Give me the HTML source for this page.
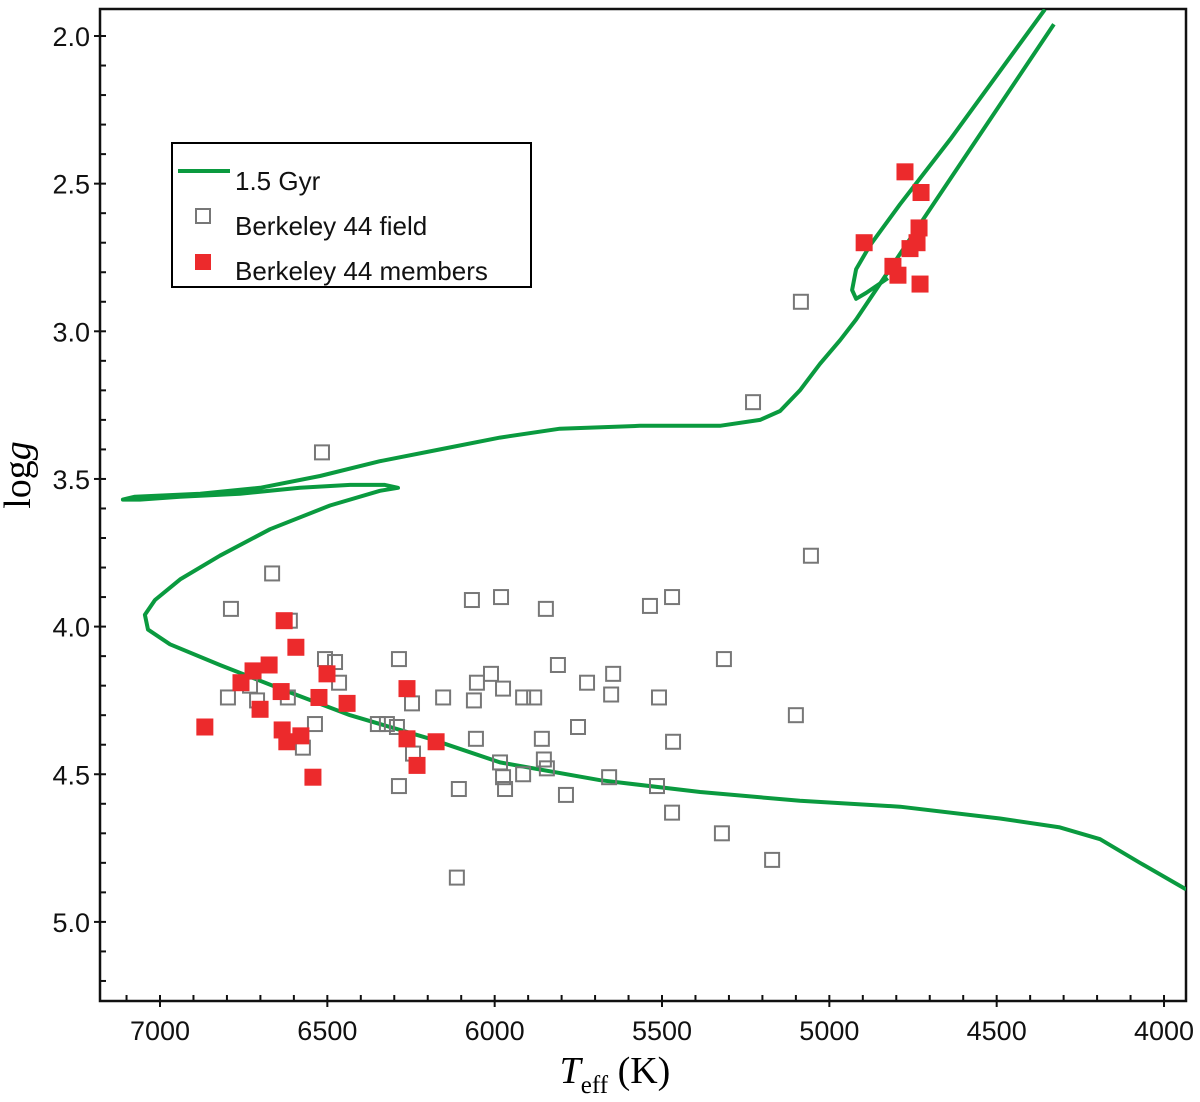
<!DOCTYPE html>
<html><head><meta charset="utf-8"><style>
html,body{margin:0;padding:0;background:#fff}
svg{display:block}
text{font-family:"Liberation Sans",sans-serif}
</style></head><body>
<svg id="chart" width="1200" height="1102" viewBox="0 0 1200 1102" xmlns="http://www.w3.org/2000/svg">
<defs><clipPath id="plotclip"><rect x="100" y="9" width="1086" height="992"/></clipPath></defs>
<g id="axes"></g>
<g id="curves" clip-path="url(#plotclip)"></g>
<g id="field"></g>
<g id="members"></g>
<g id="legend">
<rect x="172" y="143" width="359" height="144" fill="#fff" stroke="#000" stroke-width="2"/>
<line x1="178" y1="171" x2="230" y2="171" stroke="#0a9a3f" stroke-width="4"/>
<text x="235" y="190" font-size="26" fill="#111">1.5 Gyr</text>
<rect x="196" y="209" width="14" height="14" fill="none" stroke="#777" stroke-width="2"/>
<text x="235" y="235" font-size="26" fill="#111">Berkeley 44 field</text>
<rect x="195" y="254" width="16" height="16" fill="#ec2a2c"/>
<text x="235" y="280" font-size="26" fill="#111">Berkeley 44 members</text>
</g>
<text x="30" y="475" font-size="38" style="font-family:'Liberation Serif',serif" text-anchor="middle" transform="rotate(-90 30 475)">log<tspan font-style="italic">g</tspan></text>
<text x="615" y="1083" font-size="38" style="font-family:'Liberation Serif',serif" text-anchor="middle"><tspan font-style="italic">T</tspan><tspan font-size="25" dy="10">eff</tspan><tspan dy="-10"> (K)</tspan></text>
</svg>
<script>
const xTicks = [7000, 6500, 6000, 5500, 5000, 4500, 4000];
const xTickLabels = ["7000", "6500", "6000", "5500", "5000", "4500", "4000"];
const yTicks = [2.0, 2.5, 3.0, 3.5, 4.0, 4.5, 5.0];
const yTickLabels = ["2.0", "2.5", "3.0", "3.5", "4.0", "4.5", "5.0"];
const isoMainT = [3934,4072,4191,4311,4490,4789,5088,5386,5685,5984,6193,6432,6641,6821,6970,7036,7045,7015,6940,6821,6671,6492,6343,6289,6328,6432,6582,6761,6940,7060,7111,7075,6880,6701,6522,6343,6163,5984,5805,5566,5327,5207,5147,5088,5028,4968,4920,4329];
const isoMainG = [4.89,4.80,4.72,4.68,4.65,4.61,4.59,4.56,4.52,4.46,4.38,4.30,4.21,4.13,4.06,4.01,3.96,3.91,3.84,3.76,3.67,3.59,3.54,3.53,3.52,3.52,3.53,3.55,3.56,3.57,3.57,3.56,3.55,3.53,3.49,3.44,3.40,3.36,3.33,3.32,3.32,3.30,3.27,3.20,3.11,3.03,2.96,1.96];
const isoClumpT = [4356,4639,4789,4879,4920,4932,4920,4890,4825];
const isoClumpG = [1.91,2.35,2.57,2.71,2.79,2.86,2.89,2.87,2.82];
const fieldT = [5085,5228,6516,5055,6665,6788,6612,6068,5981,5847,5536,5470,6507,6477,6465,6797,6731,6710,6618,6537,6573,6286,6247,6154,6053,6011,5975,6062,5915,5882,5811,5724,5646,5652,5509,5751,6056,5859,5467,6349,6322,6292,6244,5984,5975,5969,5915,5853,5844,6286,6107,5787,5658,5515,5470,6113,5315,5100,5321,5171];
const fieldG = [2.90,3.24,3.41,3.76,3.82,3.94,3.98,3.91,3.90,3.94,3.93,3.90,4.11,4.12,4.19,4.24,4.20,4.25,4.24,4.33,4.41,4.11,4.26,4.24,4.19,4.16,4.21,4.25,4.24,4.24,4.13,4.19,4.16,4.23,4.24,4.34,4.38,4.38,4.39,4.33,4.33,4.34,4.43,4.46,4.51,4.55,4.50,4.45,4.48,4.54,4.55,4.57,4.51,4.54,4.63,4.85,4.11,4.30,4.70,4.79];
const memberT = [6866,6758,6722,6674,6638,6629,6701,6594,6635,6621,6579,6543,6525,6501,6441,6262,6262,6232,6175,4774,4726,4732,4738,4759,4896,4810,4795,4729];
const memberG = [4.34,4.19,4.15,4.13,4.22,3.98,4.28,4.07,4.35,4.39,4.37,4.51,4.24,4.16,4.26,4.21,4.38,4.47,4.39,2.46,2.53,2.65,2.70,2.72,2.70,2.78,2.81,2.84];

const NS = "http://www.w3.org/2000/svg";
const L = 100, R = 1186, T0 = 9, B = 1001;
function xs(t) { return 160 + (7000 - t) / 2.988; }
function ys(g) { return 36 + (g - 2) * 295.3; }
function mk(tag, attrs, parent) {
  const e = document.createElementNS(NS, tag);
  for (const k in attrs) e.setAttribute(k, attrs[k]);
  parent.appendChild(e);
  return e;
}
const axes = document.getElementById('axes');
const frame = mk('rect', {x: L, y: T0, width: R - L, height: B - T0, fill: 'none', stroke: '#111', 'stroke-width': 2.5}, axes);


for (let t = 7100; t >= 3950; t -= 100) {
  const x = xs(t);
  if (x < L || x > R) continue;
  const major = t % 500 === 0;
  const tk = mk('line', {x1: x, x2: x, y1: B - 6, y2: major ? B + 6 : B, stroke: '#111', 'stroke-width': 2}, axes);
  
  
}
for (let i = 0; i < xTicks.length; i++) {
  const lb = mk('text', {x: xs(xTicks[i]), y: 1040, 'font-size': 27, 'text-anchor': 'middle', fill: '#111'}, axes);
  lb.textContent = xTickLabels[i];
  
  
}
for (let k = 19; k <= 52; k++) {
  const g = k / 10;
  const y = ys(g);
  if (y < T0 || y > B) continue;
  const major = k % 5 === 0;
  const tk = mk('line', {x1: major ? L - 6 : L, x2: L + 6, y1: y, y2: y, stroke: '#111', 'stroke-width': 2}, axes);
  
  
}
for (let i = 0; i < yTicks.length; i++) {
  const lb = mk('text', {x: 90, y: ys(yTicks[i]) + 10, 'font-size': 27, 'text-anchor': 'end', fill: '#111'}, axes);
  lb.textContent = yTickLabels[i];
  
  
}
const curves = document.getElementById('curves');
function pathD(ta, ga) { return ta.map((t, i) => (i ? 'L' : 'M') + xs(t).toFixed(1) + ',' + ys(ga[i]).toFixed(1)).join(' '); }
const p1 = mk('path', {d: pathD(isoMainT, isoMainG), fill: 'none', stroke: '#0a9a3f', 'stroke-width': 4, 'stroke-linejoin': 'round'}, curves);


const p2 = mk('path', {d: pathD(isoClumpT, isoClumpG), fill: 'none', stroke: '#0a9a3f', 'stroke-width': 4, 'stroke-linejoin': 'round'}, curves);


const field = document.getElementById('field');
for (let i = 0; i < fieldT.length; i++) {
  const r = mk('rect', {x: xs(fieldT[i]) - 7, y: ys(fieldG[i]) - 7, width: 14, height: 14, fill: 'none', stroke: '#777', 'stroke-width': 2}, field);
  
  
}
const members = document.getElementById('members');
for (let i = 0; i < memberT.length; i++) {
  const r = mk('rect', {x: xs(memberT[i]) - 8.5, y: ys(memberG[i]) - 8.5, width: 17, height: 17, fill: '#ec2a2c'}, members);
  
  
}
</script>
</body></html>
